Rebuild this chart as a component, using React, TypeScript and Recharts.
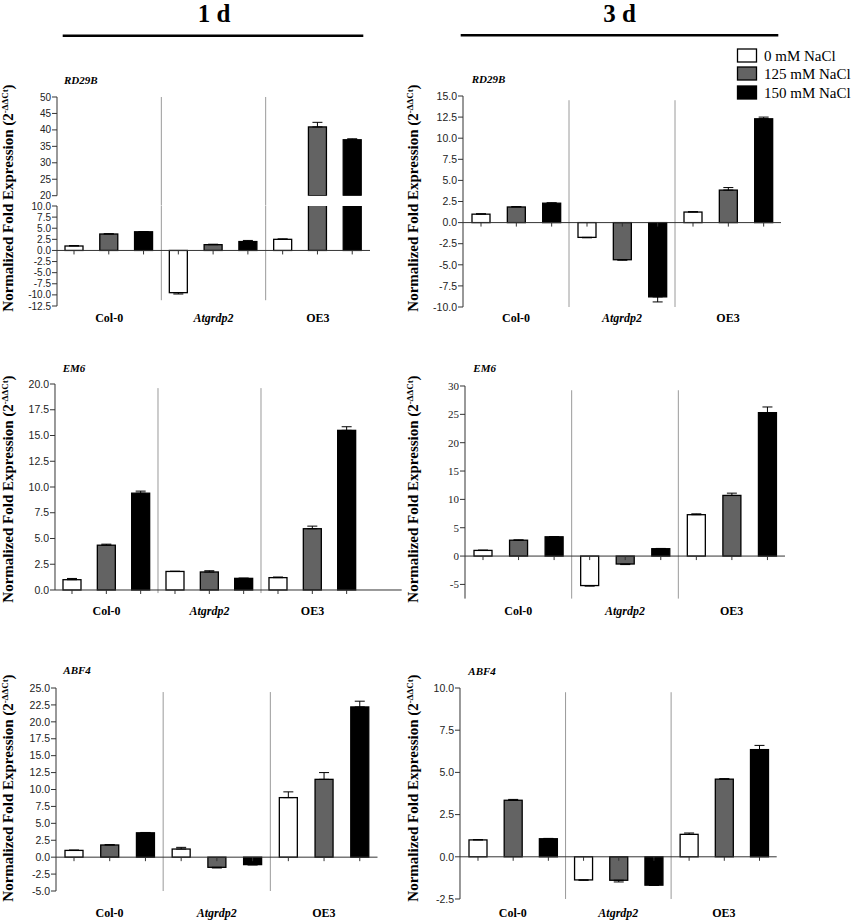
import React from 'react';
import { BarChart, Bar, XAxis, YAxis, ReferenceLine, ErrorBar } from 'recharts';

const genotypes = ['Col-0', 'Atgrdp2', 'OE3'];
const seriesNames = ['0 mM NaCl', '125 mM NaCl', '150 mM NaCl'];
const seriesFill = ['#ffffff', '#636363', '#000000'];
const periodTitles = ['1 d', '3 d'];
const genes = ['RD29B', 'EM6', 'ABF4'];

// RD29B, 1 d
const rd29b1d_0 = [1.0, -9.5, 2.5];
const rd29b1d_125 = [3.7, 1.3, 40.9];
const rd29b1d_150 = [4.2, 2.0, 37.0];
const rd29b1d_err0 = [0.1, 0.3, 0.1];
const rd29b1d_err125 = [0.05, 0.1, 1.4];
const rd29b1d_err150 = [0.05, 0.25, 0.3];

// RD29B, 3 d
const rd29b3d_0 = [1.0, -1.75, 1.25];
const rd29b3d_125 = [1.85, -4.4, 3.85];
const rd29b3d_150 = [2.3, -8.8, 12.3];
const rd29b3d_err0 = [0.05, 0.05, 0.05];
const rd29b3d_err125 = [0.05, 0.05, 0.3];
const rd29b3d_err150 = [0.05, 0.6, 0.2];

// EM6, 1 d
const em61d_0 = [1.0, 1.8, 1.2];
const em61d_125 = [4.35, 1.75, 5.95];
const em61d_150 = [9.4, 1.13, 15.5];
const em61d_err0 = [0.12, 0.02, 0.06];
const em61d_err125 = [0.1, 0.12, 0.25];
const em61d_err150 = [0.2, 0.02, 0.35];

// EM6, 3 d
const em63d_0 = [1.0, -5.2, 7.3];
const em63d_125 = [2.8, -1.4, 10.7];
const em63d_150 = [3.4, 1.3, 25.3];
const em63d_err0 = [0.05, 0.1, 0.15];
const em63d_err125 = [0.05, 0.1, 0.4];
const em63d_err150 = [0.05, 0.05, 1.0];

// ABF4, 1 d
const abf41d_0 = [1.0, 1.2, 8.8];
const abf41d_125 = [1.8, -1.5, 11.5];
const abf41d_150 = [3.6, -1.1, 22.2];
const abf41d_err0 = [0.05, 0.25, 0.85];
const abf41d_err125 = [0.05, 0.1, 1.0];
const abf41d_err150 = [0.05, 0.05, 0.85];

// ABF4, 3 d
const abf43d_0 = [1.0, -1.37, 1.33];
const abf43d_125 = [3.35, -1.39, 4.6];
const abf43d_150 = [1.07, -1.68, 6.35];
const abf43d_err0 = [0.02, 0.02, 0.08];
const abf43d_err125 = [0.05, 0.1, 0.03];
const abf43d_err150 = [0.02, 0.02, 0.25];

// tick values
const ticksTLUpper = [20, 25, 30, 35, 40, 45, 50];
const ticksTLLower = [-12.5, -10, -7.5, -5, -2.5, 0, 2.5, 5, 7.5, 10];
const ticksTR = [-10, -7.5, -5, -2.5, 0, 2.5, 5, 7.5, 10, 12.5, 15];
const ticksML = [0, 2.5, 5, 7.5, 10, 12.5, 15, 17.5, 20];
const ticksMR = [-5, 0, 5, 10, 15, 20, 25, 30];
const ticksBL = [-5, -2.5, 0, 2.5, 5, 7.5, 10, 12.5, 15, 17.5, 20, 22.5, 25];
const ticksBR = [-2.5, 0, 2.5, 5, 7.5, 10];

type Filter = (v: number) => boolean;

function buildRows(vals: number[][], errs: number[][], keep: Filter = () => true, keepErr: Filter = () => true) {
  return genotypes.map((g, i) => {
    const row: any = { g };
    vals.forEach((arr, s) => {
      const v = arr[i];
      const e = errs[s][i];
      row['v' + s] = keep(v) ? v : null;
      row['e' + s] = keep(v) && keepErr(v) ? (v >= 0 ? [0, e] : [e, 0]) : null;
    });
    return row;
  });
}

const makeShape = (key: string, withTick: boolean) => (props: any) => {
  const { x, y, width, height, fill, payload } = props;
  const v = payload ? payload[key] : null;
  if (v == null || x == null || y == null) return <g />;
  const top = Math.min(y, y + height);
  const h = Math.abs(height);
  const base = v >= 0 ? Math.max(y, y + height) : Math.min(y, y + height);
  const cx = x + width / 2;
  return (
    <g>
      <rect x={x} y={top} width={width} height={h} fill={fill} stroke="#000" strokeWidth={1.3} />
      {withTick && <line x1={cx} x2={cx} y1={base} y2={base + 4} stroke="#333" strokeWidth={1} />}
    </g>
  );
};

const makeCatTick = (labelY: number) => (props: any) => {
  const { x, payload } = props;
  const italic = payload.value === 'Atgrdp2';
  return (
    <text
      x={x}
      y={labelY}
      textAnchor="middle"
      fontFamily="'Liberation Serif', serif"
      fontWeight="bold"
      fontStyle={italic ? 'italic' : 'normal'}
      fontSize={12}
      fill="#000"
    >
      {payload.value}
    </text>
  );
};

type PanelProps = {
  x0: number;
  x1: number;
  yTop: number;
  yBot: number;
  padRight?: number;
  domain: [number, number];
  ticks: number[];
  fmt: (v: number) => string;
  rows: any[];
  labelCenter?: number;
  serifTicks?: boolean;
  tickFontSize?: number;
  overflow?: boolean;
  showCat?: boolean;
  zeroLine?: boolean;
  barTicks?: boolean;
  divTop?: number;
  divBot?: number;
  marginBottom?: number;
};

function Panel(p: PanelProps) {
  const YW = 45;
  const MT = 10;
  const MRt = 10;
  const showCat = p.showCat !== false;
  const XH = showCat ? 30 : 0;
  const MB = p.marginBottom ?? 0;
  const padRight = p.padRight ?? 0;
  const pw = p.x1 - p.x0;
  const ph = p.yBot - p.yTop;
  const W = YW + pw + MRt;
  const H = MT + ph + XH + MB;
  const left = p.x0 - YW;
  const top = p.yTop - MT;
  const band = (pw - padRight) / 3;
  const barSize = 18;
  const barGap = band / 3 - barSize;
  const labelY = (p.labelCenter ?? p.yBot + 12) + 4 - top;
  const span = p.domain[1] - p.domain[0];
  const divTop = p.divTop ?? p.domain[1] - span * 0.02;
  const divBot = p.divBot ?? p.domain[0];
  const barTicks = p.barTicks !== false;
  return (
    <div style={{ position: 'absolute', left, top }}>
      <BarChart
        width={W}
        height={H}
        data={p.rows}
        margin={{ top: MT, right: MRt, left: 0, bottom: MB }}
        barSize={barSize}
        barGap={barGap}
      >
        <XAxis
          dataKey="g"
          hide={!showCat}
          axisLine={false}
          tickLine={false}
          height={XH}
          interval={0}
          padding={{ left: 0, right: padRight }}
          tick={makeCatTick(labelY)}
        />
        <YAxis
          width={YW}
          type="number"
          domain={p.domain}
          ticks={p.ticks}
          interval={0}
          allowDataOverflow={!!p.overflow}
          tickFormatter={p.fmt}
          tick={{
            fontSize: p.tickFontSize ?? (p.serifTicks ? 11 : 10.5),
            fontFamily: p.serifTicks ? "'Liberation Serif', serif" : "'Liberation Sans', Arial, sans-serif",
            fill: '#222',
          }}
          tickSize={5}
          tickMargin={1}
          axisLine={{ stroke: '#333', strokeWidth: 1 }}
          tickLine={{ stroke: '#333', strokeWidth: 1 }}
        />
        {genotypes.slice(1).map((g) => (
          <ReferenceLine
            key={'d' + g}
            position="start"
            segment={[
              { x: g, y: divTop },
              { x: g, y: divBot },
            ]}
            stroke="#9a9a9a"
            strokeWidth={1}
            ifOverflow="visible"
          />
        ))}
        {seriesNames.map((name, s) => (
          <Bar
            key={name}
            dataKey={'v' + s}
            name={name}
            fill={seriesFill[s]}
            isAnimationActive={false}
            shape={makeShape('v' + s, barTicks)}
          >
            <ErrorBar
              dataKey={'e' + s}
              width={5}
              stroke="#000"
              strokeWidth={1}
              direction="y"
              isAnimationActive={false}
            />
          </Bar>
        ))}
        {p.zeroLine !== false && <ReferenceLine y={0} stroke="#333" strokeWidth={1} />}
      </BarChart>
    </div>
  );
}

const fmt1 = (v: number) => v.toFixed(1);
const fmt0 = (v: number) => String(v);

const rowsTLUpper = buildRows(
  [rd29b1d_0, rd29b1d_125, rd29b1d_150],
  [rd29b1d_err0, rd29b1d_err125, rd29b1d_err150],
  (v) => v >= 20
);
const rowsTLLower = buildRows(
  [rd29b1d_0, rd29b1d_125, rd29b1d_150],
  [rd29b1d_err0, rd29b1d_err125, rd29b1d_err150],
  () => true,
  (v) => v <= 10
);
const rowsTR = buildRows([rd29b3d_0, rd29b3d_125, rd29b3d_150], [rd29b3d_err0, rd29b3d_err125, rd29b3d_err150]);
const rowsML = buildRows([em61d_0, em61d_125, em61d_150], [em61d_err0, em61d_err125, em61d_err150]);
const rowsMR = buildRows([em63d_0, em63d_125, em63d_150], [em63d_err0, em63d_err125, em63d_err150]);
const rowsBL = buildRows([abf41d_0, abf41d_125, abf41d_150], [abf41d_err0, abf41d_err125, abf41d_err150]);
const rowsBR = buildRows([abf43d_0, abf43d_125, abf43d_150], [abf43d_err0, abf43d_err125, abf43d_err150]);

function YLabel({ x, cy }: { x: number; cy: number }) {
  return (
    <text
      transform={`translate(${x},${cy}) rotate(-90)`}
      textAnchor="middle"
      fontFamily="'Liberation Serif', serif"
      fontWeight="bold"
      fontSize={15}
      fill="#000"
    >
      Normalized Fold Expression (2
      <tspan dy={-5} fontSize={9}>
        -ΔΔCt
      </tspan>
      <tspan dy={5}>)</tspan>
    </text>
  );
}

function GeneLabel({ x, y, text }: { x: number; y: number; text: string }) {
  return (
    <text x={x} y={y} fontFamily="'Liberation Serif', serif" fontWeight="bold" fontStyle="italic" fontSize={11} fill="#000">
      {text}
    </text>
  );
}

export default function App() {
  const legendTops = [49, 67, 86];
  return (
    <div style={{ position: 'absolute', left: 0, top: 0, width: 851, height: 921, background: '#fff', overflow: 'hidden' }}>
      <svg width={851} height={921} style={{ position: 'absolute', left: 0, top: 0 }}>
        <text x={214} y={22} textAnchor="middle" fontFamily="'Liberation Serif', serif" fontWeight="bold" fontSize={25} fill="#000">
          {periodTitles[0]}
        </text>
        <line x1={62.7} x2={363.3} y1={35.7} y2={35.7} stroke="#000" strokeWidth={2.5} />
        <text x={619.5} y={22} textAnchor="middle" fontFamily="'Liberation Serif', serif" fontWeight="bold" fontSize={25} fill="#000">
          {periodTitles[1]}
        </text>
        <line x1={460.7} x2={778.3} y1={35.2} y2={35.2} stroke="#000" strokeWidth={2.5} />

        {seriesNames.map((n, i) => (
          <g key={n}>
            <rect x={737.5} y={legendTops[i]} width={19} height={13} fill={seriesFill[i]} stroke="#000" strokeWidth={1.3} />
            <text x={764} y={legendTops[i] + 12} fontFamily="'Liberation Serif', serif" fontSize={15} fill="#000">
              {n}
            </text>
          </g>
        ))}

        <YLabel x={13} cy={198} />
        <YLabel x={418} cy={198} />
        <YLabel x={13} cy={489} />
        <YLabel x={418} cy={489} />
        <YLabel x={13} cy={788} />
        <YLabel x={418} cy={788} />

        <GeneLabel x={64} y={84} text={genes[0]} />
        <GeneLabel x={471.7} y={83} text={genes[0]} />
        <GeneLabel x={62.7} y={372} text={genes[1]} />
        <GeneLabel x={473.3} y={372} text={genes[1]} />
        <GeneLabel x={63.3} y={674} text={genes[2]} />
        <GeneLabel x={468.3} y={675} text={genes[2]} />
      </svg>

      {/* RD29B 1 d – broken axis: upper segment */}
      <Panel
        x0={57}
        x1={370}
        yTop={97.3}
        yBot={196}
        domain={[20, 50]}
        ticks={ticksTLUpper}
        fmt={fmt0}
        rows={rowsTLUpper}
        tickFontSize={10}
        overflow
        showCat={false}
        zeroLine={false}
        barTicks={false}
        divTop={50}
        divBot={17}
        marginBottom={14}
      />
      {/* RD29B 1 d – lower segment */}
      <Panel
        x0={57}
        x1={370}
        yTop={206}
        yBot={306}
        domain={[-12.5, 10]}
        ticks={ticksTLLower}
        fmt={fmt1}
        rows={rowsTLLower}
        tickFontSize={10}
        overflow
        divTop={10}
        divBot={-11.2}
        labelCenter={318}
      />
      {/* RD29B 3 d */}
      <Panel x0={462.7} x1={780.7} yTop={96} yBot={307} domain={[-10, 15]} ticks={ticksTR} fmt={fmt1} rows={rowsTR} labelCenter={318} />
      {/* EM6 1 d */}
      <Panel
        x0={55}
        x1={401.7}
        padRight={37.7}
        yTop={384.3}
        yBot={590.3}
        domain={[0, 20]}
        ticks={ticksML}
        fmt={fmt1}
        rows={rowsML}
        divBot={-0.3}
        labelCenter={611}
      />
      {/* EM6 3 d */}
      <Panel
        x0={465}
        x1={785}
        yTop={385.7}
        yBot={598.3}
        domain={[-7.5, 30]}
        ticks={ticksMR}
        fmt={fmt0}
        rows={rowsMR}
        serifTicks
        labelCenter={611}
      />
      {/* ABF4 1 d */}
      <Panel x0={56} x1={377.5} yTop={687.7} yBot={890.7} domain={[-5, 25]} ticks={ticksBL} fmt={fmt1} rows={rowsBL} labelCenter={913} />
      {/* ABF4 3 d */}
      <Panel x0={460} x1={776.7} yTop={688.3} yBot={899.3} domain={[-2.5, 10]} ticks={ticksBR} fmt={fmt1} rows={rowsBR} labelCenter={913} />
    </div>
  );
}
